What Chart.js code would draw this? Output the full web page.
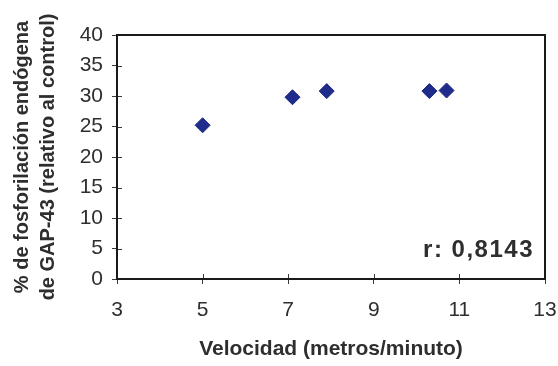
<!DOCTYPE html>
<html lang="es">
<head>
<meta charset="UTF-8">
<title>Fosforilación GAP-43 vs velocidad</title>
<style>
    body {
        margin: 0;
        background: #ffffff;
    }
    #chart {
        display: block;
    }
</style>
</head>
<body>
<canvas id="chart" width="558" height="366"></canvas>

<script src="https://cdn.jsdelivr.net/npm/chart.js"></script>
<script>
    // valores
    const velocidad = [5.0, 7.1, 7.9, 10.3, 10.7];
    const fosforilacion = [25.2, 29.8, 30.8, 30.8, 30.9];

    const xTitulo = 'Velocidad (metros/minuto)';
    const yTitulo = ['% de fosforilación endógena', 'de GAP-43 (relativo al control)'];
    const anotacion = 'r: 0,8143';

    const textColor = '#2e2e2e';
    const fontFamily = '"Liberation Sans", Arial, sans-serif';

    const puntos = velocidad.map((v, i) => ({ x: v, y: fosforilacion[i] }));

    // marco del área, marcas interiores y texto de r
    const marcoPlugin = {
        id: 'marco',
        afterDraw(chart) {
            const ctx = chart.ctx;
            const a = chart.chartArea;
            const xs = chart.scales.x;
            const ys = chart.scales.y;
            ctx.save();
            ctx.strokeStyle = '#3a3a3a';
            ctx.lineWidth = 1;
            xs.ticks.forEach(t => {
                const px = Math.round(xs.getPixelForValue(t.value)) + 0.5;
                ctx.beginPath();
                ctx.moveTo(px, a.bottom);
                ctx.lineTo(px, a.bottom - 5);
                ctx.stroke();
            });
            ys.ticks.forEach(t => {
                const py = Math.round(ys.getPixelForValue(t.value)) + 0.5;
                ctx.beginPath();
                ctx.moveTo(a.left, py);
                ctx.lineTo(a.left + 5, py);
                ctx.stroke();
            });
            ctx.strokeStyle = '#1a1a1a';
            ctx.lineWidth = 2;
            ctx.strokeRect(a.left, a.top, a.right - a.left, a.bottom - a.top);

            ctx.fillStyle = textColor;
            ctx.font = 'bold 24px ' + fontFamily;
            ctx.letterSpacing = '1.5px';
            ctx.textAlign = 'right';
            ctx.textBaseline = 'alphabetic';
            ctx.fillText(anotacion, a.right - 11, a.bottom - 22);
            ctx.restore();
        }
    };

    new Chart(document.getElementById('chart').getContext('2d'), {
        type: 'scatter',
        data: {
            datasets: [{
                data: puntos,
                pointStyle: 'rectRot',
                pointRadius: 7.5,
                pointHoverRadius: 7.5,
                backgroundColor: '#1f2c8c',
                borderColor: '#1a2680',
                borderWidth: 1
            }]
        },
        options: {
            responsive: false,
            animation: false,
            devicePixelRatio: 1,
            layout: {
                padding: { top: 35, right: 13, left: 0, bottom: 0 }
            },
            plugins: {
                legend: { display: false },
                tooltip: { enabled: false }
            },
            scales: {
                x: {
                    type: 'linear',
                    min: 3,
                    max: 13,
                    afterFit(s) {
                        s.height = 87;
                        s.paddingLeft = 0;
                        s.paddingRight = 0;
                    },
                    border: { display: false },
                    grid: {
                        drawOnChartArea: false,
                        tickLength: 5,
                        color: '#3a3a3a'
                    },
                    ticks: {
                        stepSize: 2,
                        padding: 14,
                        color: textColor,
                        font: { family: fontFamily, size: 21 }
                    },
                    title: {
                        display: true,
                        text: xTitulo,
                        color: textColor,
                        font: { family: fontFamily, size: 21, weight: 'bold' },
                        padding: { top: 0, bottom: 4 }
                    }
                },
                y: {
                    min: 0,
                    max: 40,
                    afterFit(s) {
                        s.width = 117;
                        s.paddingTop = 0;
                        s.paddingBottom = 0;
                    },
                    border: { display: false },
                    grid: {
                        drawOnChartArea: false,
                        tickLength: 5,
                        color: '#3a3a3a'
                    },
                    ticks: {
                        stepSize: 5,
                        padding: 9,
                        color: textColor,
                        font: { family: fontFamily, size: 21 }
                    },
                    title: {
                        display: true,
                        text: yTitulo,
                        color: textColor,
                        font: { family: fontFamily, size: 20, weight: 'bold', lineHeight: 1.3 },
                        padding: { top: 9, bottom: 0 }
                    }
                }
            }
        },
        plugins: [marcoPlugin]
    });
</script>
</body>
</html>
